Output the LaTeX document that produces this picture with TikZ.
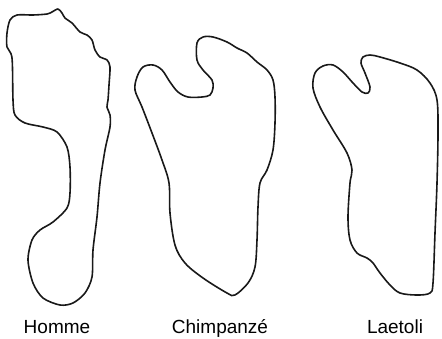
\documentclass[tikz,border=0pt]{standalone}
\usepackage{fontspec}
\setmainfont{Liberation Sans}
\tikzset{
  foot/.style={line width=1.6pt, line join=round, black!90},
  footlabel/.style={anchor=base, inner sep=0pt, font=\fontsize{19}{23}\selectfont}
}
\begin{document}
\begin{tikzpicture}[x=1pt,y=-1pt]
      \useasboundingbox (0,0) rectangle (442,338);
      % outlines
      \draw[foot] plot[smooth cycle, tension=0.5] coordinates {
        (10,20) (17,15) (33,15) (47,14) (52,12) (58,9) (62,13) (65,18)
        (72,23) (80,32) (87,35) (92,40) (95,50) (100,57) (107,60) (110,67)
        (109,85) (108,100) (107,107) (110,115) (110,127) (105,150) (100,183)
        (97,217) (93,250) (92,277) (85,293) (73,303) (60,305) (43,298)
        (33,283) (28,260) (32,240) (40,230) (53,222) (67,208) (70,193)
        (70,167) (67,147) (57,132) (43,127) (25,123) (15,115) (13,100)
        (12,58) (7,47) (7,33)};
      \draw[foot] plot[smooth cycle, tension=0.55] coordinates {
        (197,43) (203,37) (213,37) (227,42) (237,48) (247,53) (257,62)
        (267,70) (273,80) (275,97) (275,123) (273,150) (267,170) (260,183)
        (258,207) (257,240) (255,267) (248,283) (235,295) (227,293)
        (203,278) (185,263) (175,245) (170,213) (169,183) (162,160)
        (152,133) (142,107) (135,90) (137,77) (143,67) (153,65) (162,70)
        (170,82) (178,92) (188,97) (202,97) (210,95) (213,88) (212,80)
        (203,70) (197,60)};
      \draw[foot] plot[smooth cycle, tension=0.55] coordinates {
        (363,57) (370,55) (380,57) (400,63) (417,70) (430,83) (437,100)
        (438,133) (437,183) (435,233) (433,283) (430,293) (417,295)
        (400,293) (390,285) (380,273) (373,263) (367,258) (357,253)
        (350,240) (348,217) (350,183) (352,170) (347,153) (333,130)
        (320,107) (313,88) (315,73) (323,66) (333,65) (343,72) (353,83)
        (362,92) (368,93) (370,87) (365,73) (361,63)};
      % labels
      \node[footlabel] (homme) at (57,333) {Homme};
      \node[footlabel] (chimp) at (220,333) {Chimpanzé};
      \node[footlabel] (laetoli) at (395,333) {Laetoli};
    \end{tikzpicture}
\end{document}
